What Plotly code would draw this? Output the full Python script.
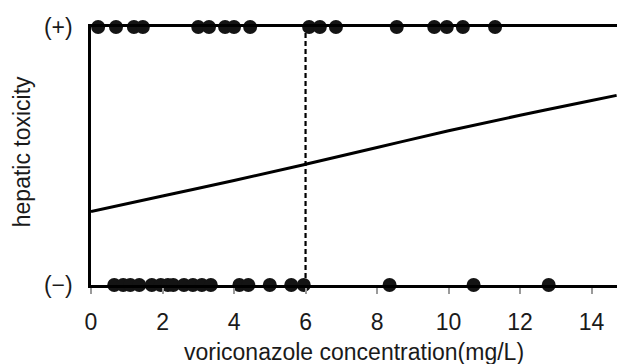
import plotly.graph_objects as go

# Observed concentrations (mg/L) by outcome
toxic_pos = [0.2, 0.7, 1.2, 1.45, 3.0, 3.3, 3.75, 4.0, 4.45, 6.1, 6.4, 6.85,
             8.55, 9.6, 9.95, 10.4, 11.3]
toxic_neg = [0.65, 0.9, 1.1, 1.35, 1.7, 1.95, 2.15, 2.3, 2.6, 2.85, 3.1, 3.35,
             4.15, 4.4, 5.0, 5.6, 5.95, 8.35, 10.7, 12.8]

# Fitted probability curve
curve_x = [0, 2, 4, 6, 8, 10, 12, 14, 14.7]
curve_p = [0.285, 0.345, 0.405, 0.468, 0.533, 0.598, 0.658, 0.715, 0.735]

cutoff = 6
x_ticks = [0, 2, 4, 6, 8, 10, 12, 14]
y_ticks = [0, 1]
y_ticktext = ["(\u2212)", "(+)"]

FONT = "Liberation Sans, Arial, sans-serif"
DOT = "#141414"
FS = 23

fig = go.Figure()
fig.add_trace(go.Scatter(x=[cutoff, cutoff], y=[-0.066, 1.05], mode="lines",
                         line=dict(color="black", width=2.2, dash="5px,3px"),
                         cliponaxis=False, hoverinfo="skip"))
fig.add_trace(go.Scatter(x=curve_x, y=curve_p, mode="lines",
                         line=dict(color="black", width=3, shape="spline"),
                         cliponaxis=False))
fig.add_trace(go.Scatter(x=toxic_pos, y=[1] * len(toxic_pos), mode="markers",
                         marker=dict(size=14, color=DOT), cliponaxis=False))
fig.add_trace(go.Scatter(x=toxic_neg, y=[0] * len(toxic_neg), mode="markers",
                         marker=dict(size=14, color=DOT), cliponaxis=False))

fig.update_layout(
    width=617, height=364,
    margin=dict(l=91, r=0, t=27, b=79),
    paper_bgcolor="white", plot_bgcolor="white",
    showlegend=False,
    font=dict(family=FONT, size=FS, color="#1a1a1a"),
    xaxis=dict(range=[0, 14.71], tickvals=x_ticks, ticks="outside", ticklen=6,
               tickwidth=2, tickcolor="#9a9a9a", showline=True, mirror=True,
               linecolor="black", linewidth=2.5, showgrid=False, zeroline=False,
               ticklabelstandoff=9, tickfont=dict(size=FS)),
    yaxis=dict(range=[0, 1], tickvals=y_ticks, ticktext=y_ticktext, ticks="",
               showline=True, linecolor="black", linewidth=2.5, showgrid=False,
               zeroline=False, ticklabelstandoff=11, tickfont=dict(size=FS)),
    annotations=[
        dict(text="voriconazole concentration(mg/L)", xref="paper", yref="paper",
             x=0.5, y=-0.26, xanchor="center", yanchor="middle", showarrow=False,
             font=dict(size=FS)),
        dict(text="hepatic toxicity", xref="paper", yref="paper",
             x=-0.131, y=0.515, xanchor="center", yanchor="middle", textangle=-90,
             showarrow=False, font=dict(size=FS)),
    ],
)

fig.write_html("out.html", config={"displayModeBar": False},
               post_script="document.body.style.margin='0';document.body.style.overflow='hidden';")
